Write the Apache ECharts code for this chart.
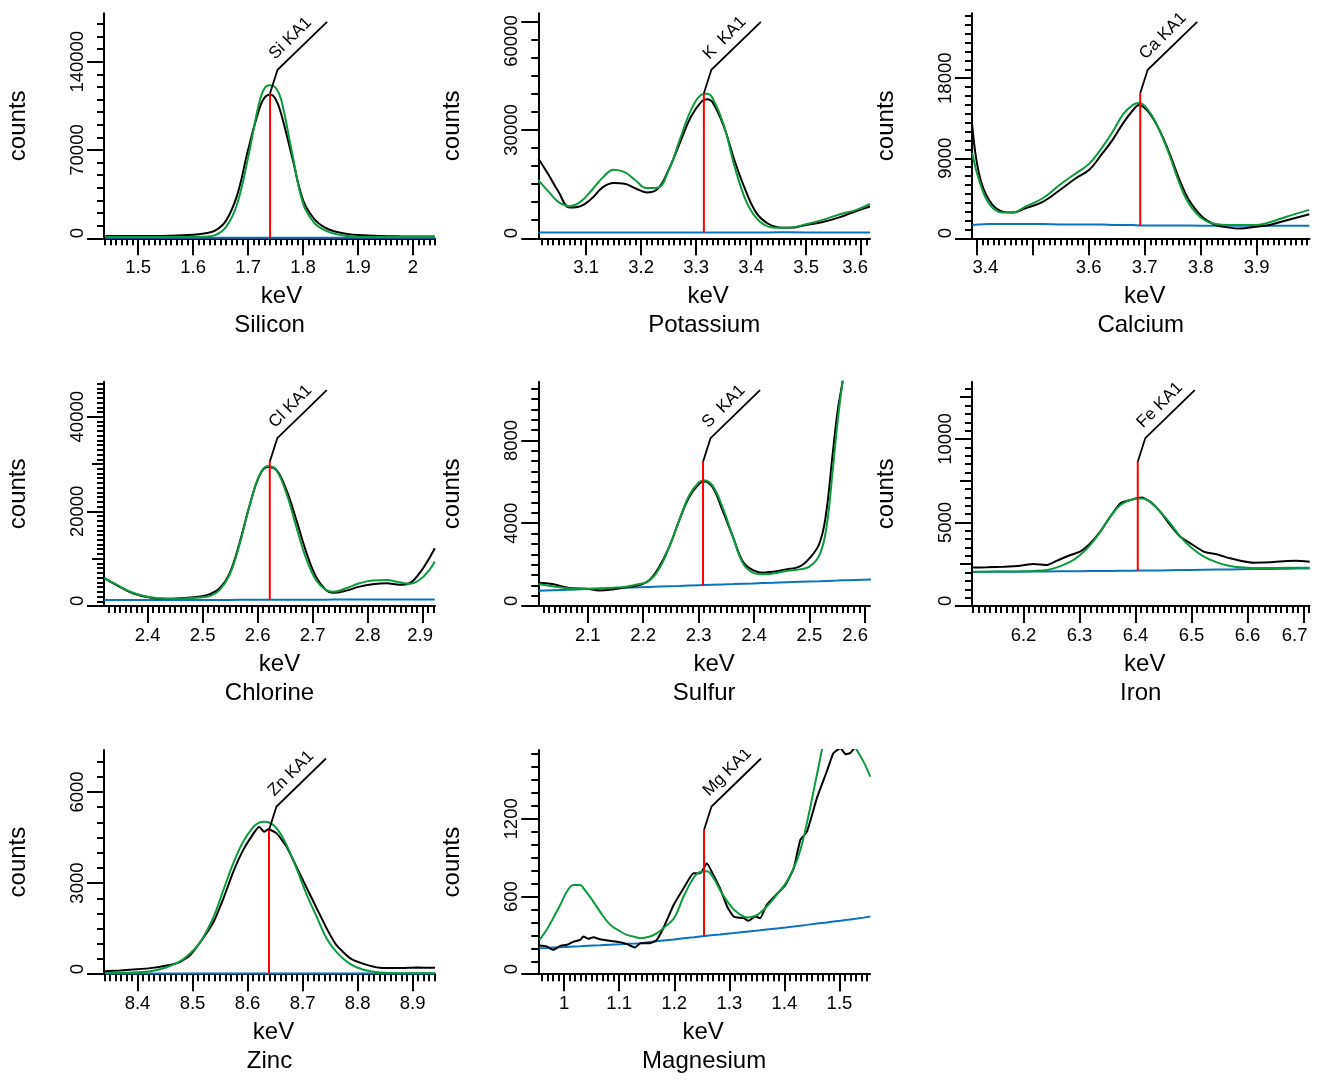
<!DOCTYPE html>
<html>
<head>
<meta charset="utf-8">
<script src="https://cdn.jsdelivr.net/npm/echarts@6/dist/echarts.min.js"></script>
<style>
  html, body { margin: 0; padding: 0; background: #fff; }
  #chart { width: 1326px; height: 1082px; }
</style>
</head>
<body>
<div id="chart"></div>
<script>
// ---- data (keV, counts) ----
const siEnergy = [1.44, 1.48, 1.52, 1.56, 1.6, 1.62, 1.64, 1.66, 1.68, 1.7, 1.72, 1.73, 1.74, 1.75, 1.76, 1.78, 1.8, 1.82, 1.84, 1.86, 1.88, 1.9, 1.94, 1.98, 2.02, 2.04]
const siCounts = [1800, 1800, 1800, 2000, 2800, 3800, 6000, 14000, 34000, 70000, 102000, 111500, 114000, 110500, 99000, 64700, 30400, 15500, 8400, 5200, 3500, 2600, 1800, 1500, 1400, 1400]
const siFit = [1100, 1100, 1100, 1100, 1100, 1300, 2500, 9000, 27000, 64000, 107000, 119000, 121300, 119500, 110500, 68000, 27700, 12500, 6300, 3300, 1800, 1300, 1100, 1100, 1100, 1100]
const siBackground = [500, 500, 500, 500, 500, 500, 500, 500, 500, 500, 500, 500, 500, 500, 500, 500, 500, 500, 500, 500, 500, 500, 500, 500, 500, 500]

const kEnergy = [3.013, 3.03, 3.05, 3.07, 3.09, 3.11, 3.13, 3.15, 3.17, 3.19, 3.21, 3.23, 3.25, 3.27, 3.29, 3.31, 3.32, 3.33, 3.35, 3.37, 3.39, 3.41, 3.43, 3.45, 3.47, 3.5, 3.53, 3.56, 3.59, 3.616]
const kCounts = [22100, 18000, 12800, 8500, 8900, 11000, 14100, 15300, 15100, 13800, 12700, 13700, 19000, 26300, 33500, 37900, 38500, 37600, 31100, 21400, 13200, 6900, 4100, 3000, 2900, 3700, 4500, 5800, 7500, 8800]
const kFit = [16100, 13200, 10000, 8900, 10150, 13300, 16800, 19000, 18300, 16000, 13900, 14000, 18800, 27200, 35300, 39800, 40000, 38800, 31500, 19800, 10600, 5500, 3300, 2900, 2950, 3900, 5100, 6600, 7800, 9500]
const kBackground = [1600, 1600, 1600, 1600, 1600, 1600, 1600, 1600, 1600, 1600, 1600, 1600, 1600, 1600, 1600, 1600, 1600, 1600, 1600, 1600, 1600, 1600, 1600, 1650, 1650, 1600, 1600, 1600, 1600, 1600]

const caEnergy = [3.392, 3.404, 3.422, 3.446, 3.464, 3.488, 3.518, 3.548, 3.577, 3.601, 3.625, 3.643, 3.661, 3.679, 3.69, 3.708, 3.726, 3.744, 3.762, 3.779, 3.803, 3.827, 3.851, 3.869, 3.899, 3.923, 3.952, 3.994]
const caCounts = [12750, 7300, 4300, 3000, 2900, 3400, 4100, 5400, 6750, 7700, 9600, 11100, 12900, 14400, 15000, 14100, 12200, 9600, 6600, 4300, 2400, 1500, 1200, 1100, 1300, 1500, 2000, 2700]
const caFit = [9600, 6600, 3900, 2900, 2900, 3600, 4500, 6000, 7300, 8400, 10300, 12000, 13900, 15000, 15200, 14250, 12200, 9400, 6200, 3900, 2200, 1600, 1500, 1500, 1500, 1800, 2400, 3200]
const caBackground = [1500, 1550, 1600, 1600, 1600, 1600, 1600, 1550, 1550, 1550, 1550, 1500, 1500, 1500, 1450, 1450, 1450, 1450, 1450, 1450, 1400, 1400, 1400, 1400, 1400, 1400, 1400, 1400]

const clEnergy = [2.321, 2.342, 2.373, 2.404, 2.434, 2.464, 2.495, 2.513, 2.531, 2.549, 2.567, 2.585, 2.603, 2.618, 2.633, 2.652, 2.67, 2.688, 2.706, 2.724, 2.737, 2.761, 2.785, 2.809, 2.834, 2.858, 2.876, 2.894, 2.912, 2.922]
const clCounts = [5900, 4500, 2700, 1800, 1550, 1700, 2000, 2500, 3750, 6900, 13300, 21100, 27500, 29400, 28900, 24600, 18300, 11500, 6200, 3400, 2800, 3250, 4100, 4600, 4800, 4500, 4800, 6900, 10100, 12200]
const clFit = [5900, 4600, 2800, 1850, 1550, 1600, 1800, 2100, 3400, 6600, 13000, 21100, 27600, 29600, 28900, 23900, 16800, 10100, 5500, 3400, 3000, 3750, 4800, 5400, 5500, 5000, 4700, 5500, 7600, 9400]
const clBackground = [1250, 1250, 1250, 1250, 1250, 1250, 1250, 1250, 1250, 1250, 1300, 1300, 1300, 1300, 1300, 1300, 1300, 1300, 1300, 1300, 1350, 1350, 1350, 1350, 1350, 1350, 1350, 1350, 1350, 1350]

const sEnergy = [2.011, 2.036, 2.067, 2.097, 2.121, 2.145, 2.169, 2.193, 2.211, 2.229, 2.247, 2.265, 2.283, 2.301, 2.31, 2.325, 2.343, 2.362, 2.38, 2.398, 2.416, 2.434, 2.458, 2.482, 2.5, 2.518, 2.53, 2.542, 2.551, 2.56, 2.57, 2.611]
const sCounts = [1120, 1060, 870, 835, 755, 800, 900, 1010, 1250, 1900, 2860, 4140, 5270, 5910, 6020, 5750, 4630, 3340, 2140, 1730, 1610, 1650, 1770, 1900, 2300, 3020, 4460, 7360, 9440, 10890, 13000, 30000]
const sFit = [1060, 960, 850, 835, 850, 880, 930, 1060, 1220, 1810, 2860, 4140, 5350, 5990, 6070, 5830, 4790, 3340, 2060, 1610, 1530, 1570, 1690, 1770, 1900, 2460, 3660, 6550, 8960, 10890, 13000, 30000]
const sBackground = [740, 763, 791, 818, 840, 862, 884, 906, 922, 938, 955, 971, 988, 1004, 1012, 1026, 1042, 1059, 1076, 1092, 1109, 1125, 1147, 1169, 1185, 1201, 1212, 1223, 1231, 1240, 1249, 1285]

const feEnergy = [6.11, 6.135, 6.165, 6.194, 6.218, 6.242, 6.26, 6.284, 6.301, 6.319, 6.337, 6.355, 6.373, 6.391, 6.412, 6.426, 6.444, 6.462, 6.48, 6.498, 6.522, 6.545, 6.569, 6.587, 6.611, 6.641, 6.67, 6.688, 6.711]
const feCounts = [2300, 2315, 2355, 2415, 2515, 2455, 2715, 3055, 3250, 3750, 4450, 5350, 6150, 6350, 6490, 6250, 5650, 4850, 4150, 3750, 3250, 3095, 2855, 2715, 2595, 2615, 2695, 2715, 2655]
const feFit = [2050, 2055, 2065, 2080, 2100, 2160, 2315, 2655, 3055, 3650, 4450, 5350, 6050, 6350, 6430, 6250, 5650, 4950, 4150, 3550, 2955, 2615, 2395, 2315, 2280, 2280, 2285, 2295, 2295]
const feBackground = [2040, 2045, 2050, 2055, 2060, 2070, 2075, 2080, 2085, 2090, 2095, 2100, 2105, 2110, 2120, 2125, 2130, 2140, 2150, 2160, 2170, 2180, 2190, 2200, 2210, 2220, 2230, 2240, 2250]

const znEnergy = [8.341, 8.368, 8.392, 8.423, 8.453, 8.477, 8.495, 8.514, 8.538, 8.556, 8.574, 8.592, 8.611, 8.621, 8.63, 8.638, 8.653, 8.671, 8.689, 8.708, 8.726, 8.744, 8.762, 8.786, 8.811, 8.841, 8.877, 8.908, 8.941]
const znCounts = [100, 120, 155, 200, 285, 400, 615, 1055, 1720, 2490, 3370, 4085, 4635, 4855, 4690, 4770, 4635, 4195, 3535, 2820, 2160, 1500, 945, 530, 340, 210, 200, 220, 210]
const znFit = [35, 45, 55, 100, 230, 420, 670, 1055, 1880, 2765, 3645, 4360, 4855, 4990, 5020, 5000, 4800, 4250, 3480, 2600, 1880, 1165, 725, 340, 145, 55, 35, 35, 35]
const znBackground = [20, 20, 20, 20, 20, 20, 20, 20, 20, 20, 20, 20, 20, 20, 20, 20, 20, 20, 20, 20, 20, 20, 20, 20, 20, 20, 20, 20, 20]

const mgEnergy = [0.955, 0.968, 0.98, 0.993, 1.005, 1.017, 1.029, 1.035, 1.044, 1.053, 1.065, 1.083, 1.102, 1.114, 1.129, 1.138, 1.156, 1.168, 1.18, 1.199, 1.217, 1.235, 1.247, 1.259, 1.271, 1.283, 1.296, 1.308, 1.326, 1.335, 1.347, 1.356, 1.368, 1.386, 1.402, 1.417, 1.429, 1.441, 1.459, 1.477, 1.489, 1.502, 1.511, 1.52, 1.529, 1.544, 1.556]
const mgCounts = [221, 214, 188, 219, 227, 252, 265, 291, 273, 286, 270, 258, 247, 232, 206, 240, 240, 265, 355, 536, 664, 780, 780, 857, 767, 664, 523, 445, 433, 412, 445, 433, 536, 618, 690, 819, 1038, 1102, 1360, 1566, 1707, 1745, 1700, 1710, 1760, 1850, 1900]
const mgFit = [265, 342, 433, 536, 639, 690, 690, 664, 615, 561, 484, 385, 330, 304, 288, 278, 291, 315, 355, 430, 600, 745, 790, 795, 745, 651, 565, 500, 445, 438, 450, 475, 523, 613, 700, 820, 960, 1170, 1540, 1900, 2050, 2050, 1900, 1820, 1750, 1640, 1527]
const mgBackground = [200, 203, 206, 208, 211, 214, 216, 218, 220, 222, 224, 228, 232, 235, 238, 240, 249, 254, 260, 268, 277, 285, 291, 297, 302, 307, 313, 318, 326, 330, 335, 339, 345, 353, 360, 368, 375, 381, 391, 400, 407, 413, 418, 423, 428, 437, 445]

// fitted line positions and labels
const peakEnergies = [1.74, 3.314, 3.692, 2.622, 2.308, 6.404, 8.639, 1.254]
const peakLabels = ["Si KA1", "K  KA1", "Ca KA1", "Cl KA1", "S  KA1", "Fe KA1", "Zn KA1", "Mg KA1"]
const panelNames = ["Silicon", "Potassium", "Calcium", "Chlorine", "Sulfur", "Iron", "Zinc", "Magnesium"]

// tick labels shown on each axis
const siXLabels = [1.5, 1.6, 1.7, 1.8, 1.9, 2]
const kXLabels = [3.1, 3.2, 3.3, 3.4, 3.5, 3.6]
const caXLabels = [3.4, 3.6, 3.7, 3.8, 3.9]
const clXLabels = [2.4, 2.5, 2.6, 2.7, 2.8, 2.9]
const sXLabels = [2.1, 2.2, 2.3, 2.4, 2.5, 2.6]
const feXLabels = [6.2, 6.3, 6.4, 6.5, 6.6, 6.7]
const znXLabels = [8.4, 8.5, 8.6, 8.7, 8.8, 8.9]
const mgXLabels = [1, 1.1, 1.2, 1.3, 1.4, 1.5]
const siYLabels = [0, 70000, 140000]
const kYLabels = [0, 30000, 60000]
const caYLabels = [0, 9000, 18000]
const clYLabels = [0, 20000, 40000]
const sYLabels = [0, 4000, 8000]
const feYLabels = [0, 5000, 10000]
const znYLabels = [0, 3000, 6000]
const mgYLabels = [0, 600, 1200]

const FONT = '"Liberation Sans", Arial, sans-serif'
const TICK_SIZE = 18.5
const NAME_SIZE = 24
const BLACK = "#000000", GREEN = "#0b9a3c", BLUE = "#0b72c0", RED = "#ff0000"

const panels = [
  { energy: siEnergy, counts: siCounts, fit: siFit, bg: siBackground, x: [1.438, 2.04], y: [0, 178400], xLabels: siXLabels, yLabels: siYLabels, yMinor: 10000 },
  { energy: kEnergy, counts: kCounts, fit: kFit, bg: kBackground, x: [3.013, 3.616], y: [0, 62300], xLabels: kXLabels, yLabels: kYLabels, yMinor: 5000 },
  { energy: caEnergy, counts: caCounts, fit: caFit, bg: caBackground, x: [3.3916, 3.9943], y: [0, 25300], xLabels: caXLabels, yLabels: caYLabels, yMinor: 1000 },
  { energy: clEnergy, counts: clCounts, fit: clFit, bg: clBackground, x: [2.3206, 2.9224], y: [0, 47400], xLabels: clXLabels, yLabels: clYLabels, yMinor: 1000, yMid: 10000 },
  { energy: sEnergy, counts: sCounts, fit: sFit, bg: sBackground, x: [2.0107, 2.6093], y: [0, 10840], xLabels: sXLabels, yLabels: sYLabels, yMinor: 500 },
  { energy: feEnergy, counts: feCounts, fit: feFit, bg: feBackground, x: [6.108, 6.7107], y: [0, 13430], xLabels: feXLabels, yLabels: feYLabels, yMinor: 500, yMid: 2500, noisy: true },
  { energy: znEnergy, counts: znCounts, fit: znFit, bg: znBackground, x: [8.339, 8.9408], y: [0, 7380], xLabels: znXLabels, yLabels: znYLabels, yMinor: 500, noisy: true },
  { energy: mgEnergy, counts: mgCounts, fit: mgFit, bg: mgBackground, x: [0.953, 1.5555], y: [0, 1732], xLabels: mgXLabels, yLabels: mgYLabels, yMinor: 100, noisy: true },
]

const colLeft = [104, 538.3, 972]
const colWidth = [331, 331.7, 337.5]
const rowTop = [13.3, 381.7, 750]
const rowHeight = [225, 224.3, 224.2]
// small horizontal nudges of the "keV" captions, as placed in the original figure
const keVShift = [12, 4, 4, 10, 10, 4, 4, -1]

const measure = document.createElement("canvas").getContext("2d")
const textWidth = (text, size) => {
  measure.font = `${size}px ${FONT}`
  return measure.measureText(text).width
}
const fmt = (v) => String(+v.toFixed(3))
const ticksBetween = (a, b, step) => {
  const out = []
  for (let k = Math.ceil(a / step - 1e-9); k * step <= b + 1e-9; k++) out.push(+(k * step).toFixed(6))
  return out
}
const interp = (xs, ys, x) => {
  for (let k = 1; k < xs.length; k++) {
    if (x <= xs[k]) return ys[k - 1] + (ys[k] - ys[k - 1]) * (x - xs[k - 1]) / (xs[k] - xs[k - 1])
  }
  return ys[ys.length - 1]
}

// keep the outer tick labels inside the axis span, like the original plots do
// sign: +1 when a positive screen shift moves along the text direction (x axis), -1 for the rotated y labels
const edgeLabels = (values, toPx, lo, hi, sign, key) => {
  const rich = {}
  const byValue = {}
  values.forEach((v, i) => {
    const text = fmt(v)
    const w = textWidth(text, TICK_SIZE)
    const c = toPx(v)
    let shift = 0
    if (c - w / 2 < lo) shift = lo - (c - w / 2)
    else if (c + w / 2 > hi) shift = hi - (c + w / 2)
    const along = shift * sign
    const name = key + i
    rich[name] = {
      fontSize: TICK_SIZE, fontFamily: FONT, color: BLACK,
      padding: [0, along < 0 ? -2 * along : 0, 0, along > 0 ? 2 * along : 0],
    }
    byValue[text] = `{${name}|${text}}`
  })
  return { rich, formatter: (v) => byValue[fmt(v)] || "" }
}

const grid = [], xAxis = [], yAxis = [], series = [], title = []
const tickStyle = { color: BLACK, width: 2 }

panels.forEach((p, i) => {
  const row = Math.floor(i / 3), col = i % 3
  const left = colLeft[col], width = colWidth[col], top = rowTop[row], height = rowHeight[row]
  grid.push({ left, top, width, height, containLabel: false, outerBoundsMode: "none" })

  const xPx = (v) => left + (v - p.x[0]) / (p.x[1] - p.x[0]) * width
  const yPx = (v) => top + height - (v - p.y[0]) / (p.y[1] - p.y[0]) * height
  const xl = edgeLabels(p.xLabels, xPx, left + 0.5, left + width - 2, 1, "x")
  const yl = edgeLabels(p.yLabels, yPx, top + 2, top + height, -1, "y")
  const ks = keVShift[i]

  const xi = xAxis.length
  xAxis.push({
    type: "value", gridIndex: i, position: "bottom", min: p.x[0], max: p.x[1],
    axisLine: { show: true, onZero: false, lineStyle: tickStyle },
    axisTick: { show: true, customValues: ticksBetween(p.x[0], p.x[1], 0.1), length: 17, lineStyle: tickStyle },
    axisLabel: { show: true, customValues: p.xLabels, margin: 20, fontSize: TICK_SIZE, fontFamily: FONT, color: BLACK, formatter: xl.formatter, rich: xl.rich },
    splitLine: { show: false },
    name: "keV", nameLocation: "middle", nameGap: 46, nameMoveOverlap: false,
    nameTextStyle: { fontSize: NAME_SIZE, fontFamily: FONT, color: BLACK, padding: [0, ks < 0 ? -2 * ks : 0, 0, ks > 0 ? 2 * ks : 0] },
  })
  xAxis.push({
    type: "value", gridIndex: i, position: "bottom", min: p.x[0], max: p.x[1],
    axisLine: { show: false, onZero: false },
    axisTick: { show: true, customValues: ticksBetween(p.x[0], p.x[1], 0.01), length: 7, lineStyle: tickStyle },
    axisLabel: { show: false }, splitLine: { show: false },
  })

  const yi = yAxis.length
  yAxis.push({
    type: "value", gridIndex: i, position: "left", min: p.y[0], max: p.y[1],
    axisLine: { show: true, onZero: false, lineStyle: tickStyle },
    axisTick: { show: true, customValues: p.yLabels, length: 17, lineStyle: tickStyle },
    axisLabel: { show: true, customValues: p.yLabels, rotate: 90, margin: 17, fontSize: TICK_SIZE, fontFamily: FONT, color: BLACK, formatter: yl.formatter, rich: yl.rich },
    splitLine: { show: false },
    name: "counts", nameLocation: "middle", nameGap: 74, nameRotate: 90, nameMoveOverlap: false,
    nameTextStyle: { fontSize: NAME_SIZE, fontFamily: FONT, color: BLACK },
  })
  yAxis.push({
    type: "value", gridIndex: i, position: "left", min: p.y[0], max: p.y[1],
    axisLine: { show: false, onZero: false },
    axisTick: { show: true, customValues: ticksBetween(p.y[0], p.y[1], p.yMinor), length: 7, lineStyle: tickStyle },
    axisLabel: { show: false }, splitLine: { show: false },
  })
  if (p.yMid) {
    yAxis.push({
      type: "value", gridIndex: i, position: "left", min: p.y[0], max: p.y[1],
      axisLine: { show: false, onZero: false },
      axisTick: { show: true, customValues: ticksBetween(p.y[0], p.y[1], p.yMid), length: 12, lineStyle: tickStyle },
      axisLabel: { show: false }, splitLine: { show: false },
    })
  }

  const pairs = (vals) => p.energy.map((e, k) => [e, vals[k]])
  const lineSeries = (vals, color, smooth, z) => ({
    type: "line", xAxisIndex: xi, yAxisIndex: yi, data: pairs(vals),
    symbol: "none", smooth, clip: true, z,
    lineStyle: { color, width: 2 }, emphasis: { disabled: true },
  })
  series.push(lineSeries(p.bg, BLUE, false, 2))
  series.push(lineSeries(p.counts, BLACK, p.noisy ? 0.15 : 0.4, 3))
  series.push(lineSeries(p.fit, GREEN, 0.4, 4))

  const label = peakLabels[i]
  series.push({
    type: "custom", xAxisIndex: xi, yAxisIndex: yi, clip: true, z: 5,
    data: [[peakEnergies[i], interp(p.energy, p.bg, peakEnergies[i])]],
    renderItem: (params, api) => {
      const base = api.coord([api.value(0), api.value(1)])
      const cs = params.coordSys
      const x = base[0], yTop = cs.y + 80
      return {
        type: "group",
        children: [
          { type: "line", shape: { x1: x, y1: base[1], x2: x, y2: yTop }, style: { stroke: RED, lineWidth: 2 } },
          { type: "polyline", shape: { points: [[x, yTop], [x + 7.5, cs.y + 56.5], [x + 57, cs.y + 8.5]] }, style: { stroke: BLACK, lineWidth: 1.8, fill: null } },
          { type: "text", x: x + 8, y: cs.y + 49.5, rotation: Math.PI / 4, style: { text: label, fill: BLACK, font: `17px ${FONT}`, align: "left", verticalAlign: "bottom" } },
        ],
      }
    },
  })

  title.push({
    text: panelNames[i], left: left + width / 2, top: top + height + 75.5, textAlign: "center", padding: 0,
    textStyle: { fontSize: NAME_SIZE, fontWeight: "normal", fontFamily: FONT, color: BLACK },
  })
})

const chart = echarts.init(document.getElementById("chart"))
chart.setOption({
  backgroundColor: "#ffffff",
  animation: false,
  title, grid, xAxis, yAxis, series,
})
</script>
</body>
</html>
